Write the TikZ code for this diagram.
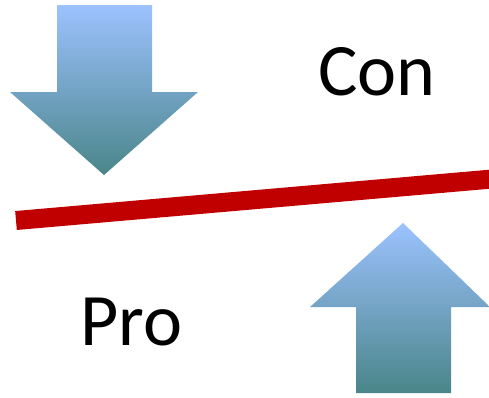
\documentclass[tikz,border=0pt]{standalone}
\usepackage{fontspec}
\setmainfont{Carlito}
\definecolor{arrowtop}{HTML}{9CC2FF}
\definecolor{arrowbottom}{HTML}{4A8589}
\definecolor{barred}{HTML}{C00000}
\tikzset{
  blockarrow/.style={top color=arrowtop, bottom color=arrowbottom, draw=none},
  label/.style={font=\fontsize{74}{80}\selectfont, inner sep=0pt, anchor=base},
}
\begin{document}
\begin{tikzpicture}[x=1pt, y=-1pt]
  \useasboundingbox (0,0) rectangle (489,397);
  % downward block arrow
  \shade[blockarrow] (57,5) -- (152,5) -- (152,92) -- (198,92) -- (104,175)
    -- (10,92) -- (57,92) -- cycle;
  % upward block arrow
  \shade[blockarrow] (403,223) -- (490,307) -- (451,307) -- (451,393)
    -- (356,393) -- (356,307) -- (310,307) -- cycle;
  % tilted red bar
  \coordinate (barL) at (16,220.5);
  \coordinate (barR) at (492,179);
  \draw[barred, line width=19pt] (barL) -- (barR);
  % labels
  \node[label] (con) at (377,95) {Con};
  \node[label] (pro) at (131.5,345) {Pro};
\end{tikzpicture}
\end{document}
